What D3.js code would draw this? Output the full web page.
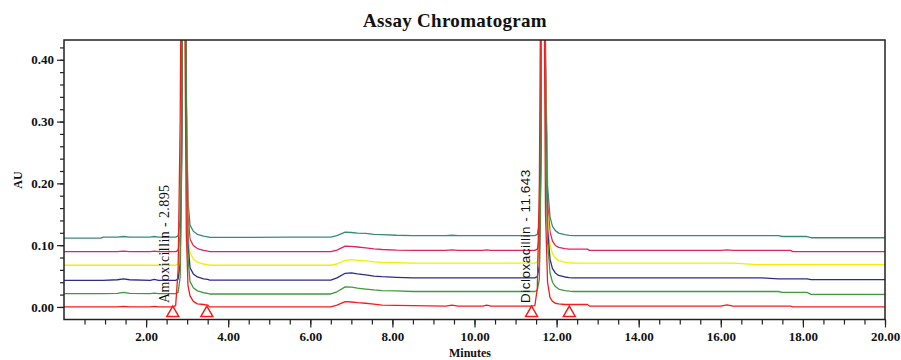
<!DOCTYPE html>
<html><head><meta charset="utf-8">
<script src="https://cdn.jsdelivr.net/npm/d3@7"></script>
<style>html,body{margin:0;padding:0;background:#fff;}svg{display:block;}</style>
</head><body>
<svg id="chart" width="901" height="360"></svg>
<script>
// ---------- data ----------
const title = "Assay Chromatogram";
const xLabel = "Minutes";
const yLabel = "AU";
const xTickLabels = [2, 4, 6, 8, 10, 12, 14, 16, 18, 20];
const yTickLabels = [0, 0.1, 0.2, 0.3, 0.4];

// retention time grid (minutes)
const times = [
  0, 0.9, 0.95, 1.3, 1.45, 1.6, 2.1, 2.2, 2.3, 2.65,
  2.72, 2.78, 2.83, 2.87, 2.9, 2.94, 2.98, 3.02, 3.07, 3.15,
  3.25, 3.4, 3.5, 3.55, 4.5, 5.5, 6.5, 6.65, 6.85, 7.0,
  7.15, 7.35, 7.55, 7.75, 8.1, 8.5, 9.3, 9.45, 9.6, 10.2,
  10.3, 10.4, 11.0, 11.38, 11.47, 11.53, 11.58, 11.62, 11.65, 11.69,
  11.73, 11.78, 11.84, 11.9, 11.97, 12.05, 12.2, 12.31, 12.4, 12.75,
  12.8, 16.0, 16.15, 16.3, 16.9, 17.0, 17.4, 17.5, 17.7, 17.75,
  18.1, 18.2, 20.0
];

const tealAU = [
  0.1115, 0.1115, 0.113, 0.113, 0.114, 0.113, 0.113, 0.114, 0.113, 0.113,
  0.113, 0.115, 0.14, 0.33, 0.95, 0.8, 0.3525, 0.1725, 0.1325, 0.1225,
  0.1175, 0.1145, 0.1135, 0.1125, 0.1125, 0.113, 0.113, 0.1155, 0.121, 0.1205,
  0.1195, 0.119, 0.1175, 0.117, 0.116, 0.1155, 0.1155, 0.116, 0.1155, 0.1155,
  0.1155, 0.1155, 0.1155, 0.1155, 0.1155, 0.1175, 0.1355, 0.3155, 0.95, 0.9,
  0.4155, 0.1955, 0.1455, 0.1305, 0.1235, 0.1195, 0.117, 0.116, 0.1155, 0.1155,
  0.1155, 0.1155, 0.1155, 0.1155, 0.1155, 0.1155, 0.1155, 0.114, 0.114, 0.114,
  0.114, 0.112, 0.112
];
const pinkAU = [
  0.0895, 0.0895, 0.0895, 0.0895, 0.0905, 0.0895, 0.0895, 0.0905, 0.0895, 0.0895,
  0.0895, 0.0915, 0.1165, 0.3095, 0.95, 0.8, 0.3295, 0.1495, 0.1095, 0.0995,
  0.0945, 0.0915, 0.0905, 0.0895, 0.0895, 0.0895, 0.0895, 0.092, 0.0985, 0.098,
  0.097, 0.0955, 0.094, 0.093, 0.092, 0.0915, 0.0915, 0.0925, 0.0915, 0.0915,
  0.0925, 0.0915, 0.0915, 0.0915, 0.0915, 0.0935, 0.1115, 0.2915, 0.95, 0.9,
  0.3915, 0.1715, 0.1215, 0.1065, 0.0995, 0.0965, 0.0945, 0.0935, 0.0935, 0.0935,
  0.0915, 0.0915, 0.0925, 0.0915, 0.0915, 0.0915, 0.0915, 0.0915, 0.0915, 0.0895,
  0.0895, 0.0895, 0.0895
];
const yellowAU = [
  0.0675, 0.0675, 0.0675, 0.0675, 0.0675, 0.0675, 0.0675, 0.0675, 0.0675, 0.0675,
  0.0675, 0.0695, 0.0945, 0.2875, 0.95, 0.8, 0.3075, 0.1275, 0.0875, 0.0775,
  0.0725, 0.0695, 0.0685, 0.0675, 0.0675, 0.0675, 0.0675, 0.0695, 0.0755, 0.0765,
  0.0755, 0.0745, 0.073, 0.072, 0.0715, 0.071, 0.071, 0.071, 0.071, 0.071,
  0.071, 0.071, 0.071, 0.071, 0.071, 0.073, 0.091, 0.271, 0.95, 0.9,
  0.371, 0.151, 0.101, 0.086, 0.079, 0.075, 0.0725, 0.0715, 0.071, 0.071,
  0.071, 0.071, 0.071, 0.071, 0.0685, 0.0685, 0.0685, 0.0685, 0.0685, 0.0685,
  0.0685, 0.0685, 0.0685
];
const navyAU = [
  0.043, 0.043, 0.043, 0.044, 0.0455, 0.044, 0.043, 0.0445, 0.043, 0.043,
  0.043, 0.045, 0.07, 0.263, 0.95, 0.8, 0.2835, 0.1035, 0.0635, 0.0535,
  0.0485, 0.0455, 0.0445, 0.0435, 0.0435, 0.0435, 0.0435, 0.047, 0.0545, 0.055,
  0.0535, 0.052, 0.05, 0.049, 0.048, 0.047, 0.047, 0.047, 0.047, 0.047,
  0.047, 0.047, 0.047, 0.047, 0.047, 0.049, 0.067, 0.247, 0.95, 0.9,
  0.347, 0.127, 0.077, 0.062, 0.055, 0.051, 0.0485, 0.0475, 0.047, 0.047,
  0.047, 0.047, 0.047, 0.047, 0.047, 0.047, 0.0455, 0.0455, 0.0455, 0.0455,
  0.0455, 0.0443, 0.0443
];
const greenAU = [
  0.0215, 0.0215, 0.0215, 0.022, 0.0235, 0.022, 0.0215, 0.0225, 0.0215, 0.0215,
  0.0215, 0.0235, 0.0485, 0.2415, 0.95, 0.8, 0.261, 0.081, 0.041, 0.031,
  0.026, 0.023, 0.022, 0.021, 0.021, 0.021, 0.021, 0.0245, 0.0325, 0.032,
  0.0305, 0.029, 0.0275, 0.0265, 0.026, 0.025, 0.025, 0.025, 0.025, 0.025,
  0.025, 0.025, 0.025, 0.025, 0.025, 0.027, 0.045, 0.225, 0.95, 0.9,
  0.325, 0.105, 0.055, 0.04, 0.033, 0.029, 0.0265, 0.0255, 0.025, 0.025,
  0.025, 0.025, 0.025, 0.025, 0.025, 0.025, 0.025, 0.0235, 0.0235, 0.0235,
  0.0235, 0.0205, 0.0205
];
const redAU = [
  0, 0, 0, 0, 0.001, 0, 0, 0.001, 0, 0,
  0.002, 0.06, 0.3, 0.7, 0.95, 0.5, 0.12, 0.035, 0.018, 0.009,
  0.005, 0.004, 0.003, 0, 0, 0, 0, 0.003, 0.0085, 0.008,
  0.007, 0.006, 0.0045, 0.003, 0.0025, 0.002, 0.0015, 0.003, 0.0015, 0.0015,
  0.003, 0.0015, 0.0015, 0.0015, 0.002, 0.03, 0.2, 0.6, 0.95, 0.6,
  0.15, 0.04, 0.015, 0.009, 0.006, 0.005, 0.004, 0.004, 0.004, 0.004,
  0.0015, 0.0015, 0.0035, 0.0015, 0.0015, 0.0015, 0.0015, 0.0015, 0.0015, 0,
  0, 0, 0
];

const seriesNames = ["teal", "pink", "yellow", "navy", "green", "red"];
const seriesValues = [tealAU, pinkAU, yellowAU, navyAU, greenAU, redAU];
const seriesColors = ["#3a8a7c", "#e3245c", "#f2ee00", "#2b2c8c", "#3f9a3c", "#f51c1c"];

// integration markers (minutes)
const markerTimes = [2.65, 3.48, 11.39, 12.31];
// peak labels
const peakNames = ["Amoxicillin - 2.895", "Dicloxacillin - 11.643"];
const peakLabelTimes = [2.57, 11.34];

// ---------- drawing ----------
const svg = d3.select("#chart");
const L = 64, R = 885, T = 40, B = 319.5;
const x = d3.scaleLinear().domain([0, 20]).range([L, R]);
const y = d3.scaleLinear().domain([-0.0203, 0.432]).range([B, T]);

svg.append("rect").attr("width", 901).attr("height", 360).attr("fill", "#fff");

svg.append("defs").append("clipPath").attr("id", "plotclip")
  .append("rect").attr("x", L).attr("y", T).attr("width", R - L).attr("height", B - T);

const serif = "'Liberation Serif','Times New Roman',serif";
const sans = "'Liberation Sans',Arial,sans-serif";

// title
svg.append("text").attr("x", 455).attr("y", 27).attr("text-anchor", "middle")
  .attr("font-family", serif).attr("font-weight", "bold").attr("font-size", 19)
  .attr("letter-spacing", 0.3).attr("fill", "#111").text(title);

// traces
const g = svg.append("g").attr("clip-path", "url(#plotclip)");
const line = d3.line().x((d, i) => x(times[i])).y(d => y(d));
seriesValues.forEach((vals, k) => {
  g.append("path").datum(vals).attr("d", line)
    .attr("fill", "none").attr("stroke", seriesColors[k])
    .attr("stroke-width", 1.3).attr("stroke-linejoin", "round");
});

// integration markers
const tri = d3.symbol().type(d3.symbolTriangle).size(62);
svg.append("g").selectAll("path").data(markerTimes).join("path")
  .attr("d", tri)
  .attr("transform", d => `translate(${x(d)},${y(0) + 6})`)
  .attr("fill", "none").attr("stroke", "#f51c1c").attr("stroke-width", 1.5);

// peak labels
svg.append("text")
  .attr("transform", `translate(${x(peakLabelTimes[0])},${y(0) - 4}) rotate(-90)`)
  .attr("font-family", serif).attr("font-size", 14).attr("letter-spacing", 0.4)
  .attr("fill", "#111").text(peakNames[0]);
svg.append("text")
  .attr("transform", `translate(${x(peakLabelTimes[1])},${y(0) - 4}) rotate(-90)`)
  .attr("font-family", sans).attr("font-size", 13.5).attr("letter-spacing", 0.5)
  .attr("fill", "#111").text(peakNames[1]);

// frame
svg.append("rect").attr("x", L).attr("y", T).attr("width", R - L).attr("height", B - T)
  .attr("fill", "none").attr("stroke", "#222").attr("stroke-width", 1.5);

// y axis
const yMinor = svg.append("g").attr("transform", `translate(${L},0)`)
  .call(d3.axisLeft(y).tickValues(d3.range(0, 0.4201, 0.02)).tickSize(4).tickFormat(""));
const yMajor = svg.append("g").attr("transform", `translate(${L},0)`)
  .call(d3.axisLeft(y).tickValues(yTickLabels).tickSize(7).tickPadding(3).tickFormat(d3.format(".2f")));
// x axis
const xMinor = svg.append("g").attr("transform", `translate(0,${B})`)
  .call(d3.axisBottom(x).tickValues(d3.range(0.5, 20.01, 0.5)).tickSize(5).tickFormat(""));
const xMajor = svg.append("g").attr("transform", `translate(0,${B})`)
  .call(d3.axisBottom(x).tickValues(xTickLabels).tickSize(8).tickPadding(4).tickFormat(d3.format(".2f")));
[yMinor, yMajor, xMinor, xMajor].forEach(a => {
  a.select(".domain").remove();
  a.selectAll("line").attr("stroke", "#222").attr("stroke-width", 1.2);
  a.selectAll("text").attr("font-family", serif).attr("font-weight", "bold")
    .attr("font-size", 13).attr("fill", "#111");
});

// axis titles
svg.append("text").attr("x", 470).attr("y", 357).attr("text-anchor", "middle")
  .attr("font-family", serif).attr("font-weight", "bold").attr("font-size", 12)
  .attr("fill", "#111").text(xLabel);
svg.append("text").attr("transform", "translate(22,180) rotate(-90)").attr("text-anchor", "middle")
  .attr("font-family", serif).attr("font-weight", "bold").attr("font-size", 12)
  .attr("fill", "#111").text(yLabel);
</script>
</body></html>
